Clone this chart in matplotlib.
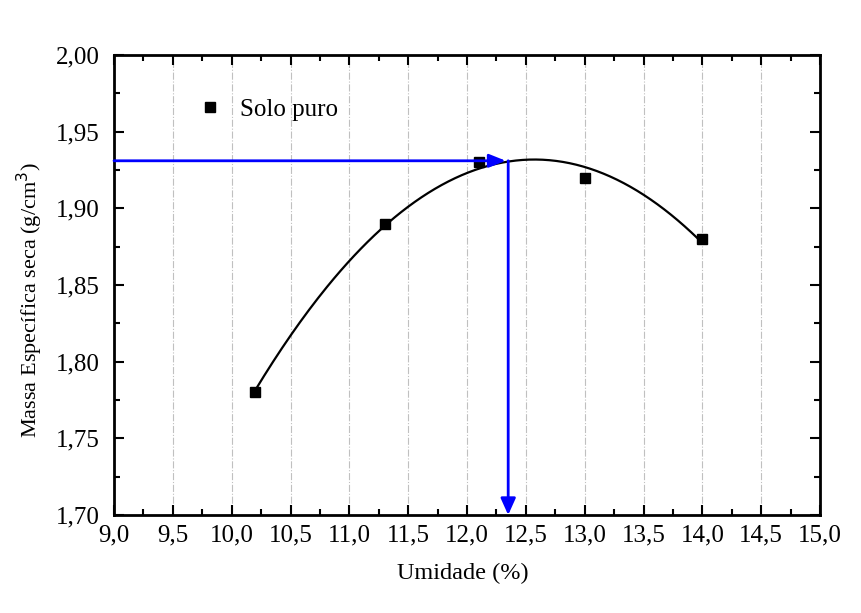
import numpy as np
import matplotlib
matplotlib.use('Agg')
import matplotlib.pyplot as plt
import matplotlib.ticker as mticker

# ── Data ────────────────────────────────────────────────────────────
umidade = [10.2, 11.3, 12.1, 13.0, 14.0]
massa = [1.78, 1.89, 1.93, 1.92, 1.88]
x_otima = 12.33
y_max = 1.931

plt.rcParams['font.family'] = ['Liberation Serif', 'DejaVu Serif']

fig = plt.figure(figsize=(8.61, 6.13), dpi=100)
ax = fig.add_axes([0.1324, 0.1599, 0.82, 0.7504])

# fitted curve (quadratic)
coef = np.polyfit(umidade, massa, 2)
xf = np.linspace(min(umidade), max(umidade), 200)
ax.plot(xf, np.polyval(coef, xf), color='black', lw=1.6, zorder=3)

ax.plot(umidade, massa, 's', color='black', ms=7, zorder=4, label='Solo puro')

# blue arrows
ax.annotate('', xy=(x_otima, y_max), xytext=(9.0, y_max),
            arrowprops=dict(arrowstyle='-|>,head_length=1.0,head_width=0.4',
                            color='#0000ff', lw=2, shrinkA=0, shrinkB=0),
            zorder=5)
ax.annotate('', xy=(x_otima + 0.02, 1.70), xytext=(x_otima + 0.02, y_max),
            arrowprops=dict(arrowstyle='-|>,head_length=1.0,head_width=0.45',
                            color='#0000ff', lw=2, shrinkA=0, shrinkB=0),
            zorder=5)

ax.set_xlim(9.0, 15.0)
ax.set_ylim(1.70, 2.00)
ax.xaxis.set_major_locator(mticker.MultipleLocator(0.5))
ax.xaxis.set_minor_locator(mticker.MultipleLocator(0.25))
ax.yaxis.set_major_locator(mticker.MultipleLocator(0.05))
ax.yaxis.set_minor_locator(mticker.MultipleLocator(0.025))
ax.xaxis.set_major_formatter(mticker.FuncFormatter(lambda v, _: f'{v:.1f}'.replace('.', ',')))
ax.yaxis.set_major_formatter(mticker.FuncFormatter(lambda v, _: f'{v:.2f}'.replace('.', ',')))

ax.tick_params(which='both', direction='in', top=True, right=True, width=1.5,
               labelsize=18)
ax.tick_params(which='major', length=7)
ax.tick_params(which='minor', length=4)
ax.tick_params(axis='x', pad=7)
ax.tick_params(axis='y', pad=10)
for s in ax.spines.values():
    s.set_linewidth(2)

ax.grid(axis='x', which='major', color='#c0c0c0', linestyle='-.', lw=0.8)

ax.set_xlabel('Umidade (%)', fontsize=17.5, va='center')
ax.set_ylabel('Massa Específica seca (g/cm$^3$)', fontsize=16, va='center')
ax.xaxis.set_label_coords(0.494, -0.128)
ax.yaxis.set_label_coords(-0.119, 0.467)

ax.legend(loc='upper left', bbox_to_anchor=(0.083, 0.955), frameon=False,
          fontsize=18, handletextpad=0.6, markerscale=1.0, handlelength=1.2)

fig.savefig('out.png', dpi=100)
